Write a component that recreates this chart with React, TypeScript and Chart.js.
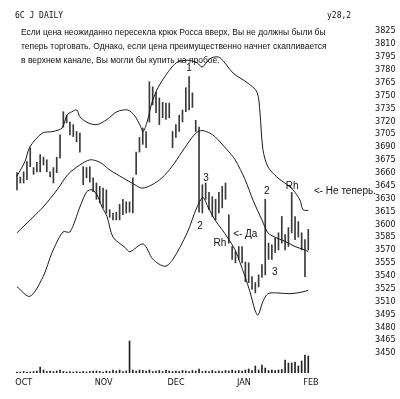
import React, { useEffect, useRef } from 'react';
import { Chart, registerables } from 'chart.js';

Chart.register(...registerables);

// ---- data ----
const barHigh = [
  3660, 3655, 3661, 3673, 3689, 3666, 3672, 3681, 3678, 3675,
  3661, 3666, 3678, 3704, 3731, 3727, 3719, 3716, 3708, 3706,
  3667, 3666, 3667, 3654, 3648, 3644, 3642, 3640, 3617, 3613,
  3614, 3623, 3629, 3626, 3626, 3654, 3684, 3701, 3712, 3708,
  3766, 3760, 3754, 3747, 3742, 3741, 3741, 3708, 3716, 3727,
  3733, 3759, 3772, 3753, 3721, 3713, 3646, 3648, 3637, 3632,
  3629, 3637, 3644, 3648, 3611, 3574, 3568, 3574, 3574, 3556,
  3555, 3539, 3532, 3541, 3553, 3629, 3578, 3576, 3584, 3590,
  3609, 3588, 3596, 3637, 3609, 3603, 3590, 3582, 3594,
];
const barLow = [
  3640, 3648, 3648, 3652, 3667, 3658, 3661, 3661, 3669, 3661,
  3655, 3648, 3660, 3677, 3713, 3718, 3704, 3702, 3696, 3684,
  3646, 3654, 3649, 3638, 3629, 3625, 3619, 3613, 3608, 3605,
  3605, 3605, 3611, 3613, 3614, 3613, 3658, 3684, 3693, 3689,
  3719, 3739, 3730, 3716, 3724, 3722, 3724, 3689, 3701, 3708,
  3719, 3731, 3733, 3736, 3708, 3614, 3613, 3629, 3617, 3609,
  3605, 3613, 3619, 3629, 3578, 3559, 3555, 3559, 3555, 3533,
  3532, 3524, 3520, 3527, 3538, 3541, 3559, 3559, 3567, 3570,
  3578, 3570, 3574, 3590, 3582, 3585, 3570, 3539, 3570,
];
const volume = [
  100, 100, 150, 100, 100, 150, 200, 600, 300, 150,
  200, 150, 200, 300, 150, 100, 150, 100, 150, 100,
  150, 100, 150, 200, 200, 150, 100, 200, 150, 300,
  200, 300, 150, 200, 3200, 300, 200, 300, 250, 200,
  300, 150, 200, 250, 150, 300, 200, 150, 200, 150,
  250, 200, 150, 250, 200, 400, 150, 200, 150, 250,
  150, 200, 150, 250, 200, 300, 200, 250, 200, 300,
  400, 250, 700, 300, 800, 500, 250, 300, 250, 300,
  350, 1300, 1000, 1000, 1100, 700, 1200, 1800, 1700,
];

const upperIdx = [0, 2.4, 3.9, 7.6, 10.9, 13.6, 15.1, 16.6, 18.1, 19.0, 21.5, 24.2, 27.2, 30.2, 33.5, 35.6, 37.2, 38.1, 39.3, 40.8, 42.6, 44.7, 46.8, 48.6, 51.7, 54.4, 55.9, 57.4, 58.9, 61.3, 65.3, 69.5, 72.5, 73.4, 74.3, 75.8, 78.5, 81.6, 83.4, 85.5, 86.4, 88];
const upperVal = [3656, 3673, 3690, 3706, 3708, 3712, 3727, 3731, 3733, 3725, 3718, 3716, 3722, 3731, 3733, 3726, 3715, 3708, 3719, 3742, 3759, 3772, 3783, 3789, 3791, 3788, 3783, 3789, 3794, 3794, 3776, 3765, 3754, 3730, 3687, 3667, 3655, 3646, 3640, 3628, 3617, 3616];
const midIdx = [0, 4.8, 7.9, 12.1, 15.4, 19.0, 22.1, 25.1, 28.1, 32.0, 35.6, 37.8, 40.8, 43.8, 46.8, 49.8, 52.9, 54.7, 56.2, 58.3, 59.8, 63.4, 65.9, 68.9, 71.3, 74.0, 75.8, 77.9, 81.0, 84.0, 87.0, 88];
const midVal = [3590, 3608, 3620, 3640, 3658, 3669, 3675, 3672, 3663, 3654, 3646, 3642, 3646, 3654, 3667, 3684, 3701, 3708, 3709, 3706, 3702, 3687, 3675, 3652, 3628, 3605, 3590, 3585, 3580, 3574, 3570, 3568];
const lowIdx = [0, 3.9, 7.9, 10.6, 13.9, 16.0, 19.0, 21.1, 22.7, 24.2, 25.7, 27.2, 29.0, 32.6, 34.1, 38.1, 41.1, 44.7, 47.1, 51.4, 54.4, 56.2, 57.7, 59.8, 61.9, 63.7, 65.9, 67.4, 68.9, 70.4, 71.9, 72.8, 74.3, 75.8, 78.5, 82.5, 86.1, 88];
const lowVal = [3527, 3516, 3539, 3567, 3591, 3591, 3620, 3638, 3640, 3634, 3620, 3609, 3585, 3573, 3568, 3577, 3559, 3551, 3559, 3590, 3620, 3631, 3620, 3605, 3594, 3584, 3570, 3555, 3539, 3521, 3500, 3494, 3510, 3519, 3520, 3519, 3521, 3523];

const yTicks = [3825, 3810, 3795, 3780, 3765, 3750, 3735, 3720, 3705, 3690, 3675, 3660, 3645, 3630, 3615, 3600, 3585, 3570, 3555, 3540, 3525, 3510, 3495, 3480, 3465, 3450];
const monthLabels = ['OCT', 'NOV', 'DEC', 'JAN', 'FEB'];
const monthStartIdx = [0, 24, 46, 67, 87];

const titleText = '6C J DAILY';
const codeText = 'у28,2';
const noteLines = [
  'Если цена неожиданно пересекла крюк Росса вверх, Вы не должны были бы',
  'теперь торговать. Однако, если цена преимущественно начнет скапливается',
  'в верхнем канале, Вы могли бы купить на пробое.',
];
const annotations = [
  { text: '1', i: 52.0, p: 3782, align: 'center' },
  { text: '3', i: 57.1, p: 3654, align: 'center' },
  { text: '2', i: 55.3, p: 3598, align: 'center' },
  { text: 'Rh', i: 61.3, p: 3578, align: 'center' },
  { text: '<- Да', i: 65.3, p: 3588, align: 'left' },
  { text: '2', i: 75.5, p: 3638, align: 'center' },
  { text: 'Rh', i: 83.1, p: 3644, align: 'center' },
  { text: '<- Не теперь.', i: 89.7, p: 3638, align: 'left' },
  { text: '3', i: 77.9, p: 3544, align: 'center' },
];

const pixelFont = "'Liberation Sans Narrow', 'DejaVu Sans Condensed', 'DejaVu Sans Mono', monospace";

const textPlugin = {
  id: 'textPlugin',
  afterDraw(chart: any) {
    const ctx = chart.ctx;
    const xs = chart.scales.x;
    const ys = chart.scales.y;
    ctx.save();
    ctx.fillStyle = '#111';
    ctx.textBaseline = 'alphabetic';
    ctx.textAlign = 'left';
    ctx.font = "8px 'DejaVu Sans Mono', monospace";
    ctx.fillText(titleText, 15, 18);
    ctx.fillText(codeText, 327, 18);
    ctx.font = "8.5px 'Liberation Sans', Arial, sans-serif";
    noteLines.forEach((l, k) => ctx.fillText(l, 21, 34.5 + k * 14));
    ctx.textBaseline = 'middle';
    ctx.font = "10px 'Liberation Sans', Arial, sans-serif";
    annotations.forEach((a) => {
      ctx.textAlign = a.align;
      ctx.fillText(a.text, xs.getPixelForValue(a.i), ys.getPixelForValue(a.p));
    });
    ctx.restore();
  },
};

export default function App() {
  const ref = useRef<HTMLCanvasElement>(null);
  useEffect(() => {
    if (!ref.current) return;
    const bandStyle = {
      type: 'line' as const,
      borderColor: '#1a1a1a',
      borderWidth: 1,
      pointRadius: 0,
      tension: 0.3,
      fill: false,
      yAxisID: 'y',
    };
    const chart = new Chart(ref.current, {
      type: 'bar',
      data: {
        datasets: [
          { ...bandStyle, data: upperIdx.map((x, k) => ({ x, y: upperVal[k] })) } as any,
          { ...bandStyle, data: midIdx.map((x, k) => ({ x, y: midVal[k] })) } as any,
          { ...bandStyle, data: lowIdx.map((x, k) => ({ x, y: lowVal[k] })) } as any,
          {
            type: 'bar',
            data: barHigh.map((h, k) => ({ x: k, y: [barLow[k], h] })),
            backgroundColor: '#3a3a3a',
            barThickness: 1,
            grouped: false,
            borderWidth: 0,
            yAxisID: 'y',
          } as any,
          {
            type: 'bar',
            data: volume.map((v, k) => ({ x: k, y: v })),
            backgroundColor: '#222',
            barThickness: 1,
            grouped: false,
            borderWidth: 0,
            yAxisID: 'yv',
          } as any,
        ],
      },
      options: {
        animation: false,
        responsive: false,
        events: [],
        layout: { padding: { top: 8, left: 10, right: 0, bottom: 0 } },
        plugins: { legend: { display: false }, tooltip: { enabled: false } },
        scales: {
          x: {
            type: 'linear',
            offset: false,
            min: -2.115,
            max: 90.94,
            grid: { display: false, drawTicks: false },
            border: { display: false },
            afterBuildTicks: (axis: any) => {
              axis.ticks = monthStartIdx.map((v) => ({ value: v - 0.5 }));
            },
            afterFit: (axis: any) => {
              axis.height = 26;
              axis.paddingLeft = 0;
              axis.paddingRight = 0;
            },
            ticks: {
              align: 'start',
              padding: 4,
              color: '#111',
              maxRotation: 0,
              autoSkip: false,
              font: { family: pixelFont, size: 9 },
              callback: (_v: any, i: number) => monthLabels[i],
            },
          },
          y: {
            type: 'linear',
            position: 'right',
            min: 3426.7,
            max: 3851.8,
            grid: { display: false, drawTicks: false },
            border: { display: false },
            afterBuildTicks: (axis: any) => {
              axis.ticks = yTicks.map((v) => ({ value: v }));
            },
            afterFit: (axis: any) => {
              axis.width = 82;
              axis.paddingTop = 0;
              axis.paddingBottom = 0;
            },
            ticks: {
              padding: 57,
              color: '#111',
              autoSkip: false,
              font: { family: pixelFont, size: 9 },
              callback: (v: any) => String(v),
            },
          },
          yv: { type: 'linear', display: false, min: 0, max: 36500 },
        },
      },
      plugins: [textPlugin],
    } as any);
    return () => chart.destroy();
  }, []);
  return (
    <div style={{ position: 'fixed', left: 0, top: 0, width: 400, height: 399, background: '#fff' }}>
      <canvas ref={ref} width={400} height={399} style={{ width: 400, height: 399, display: 'block' }} />
    </div>
  );
}
